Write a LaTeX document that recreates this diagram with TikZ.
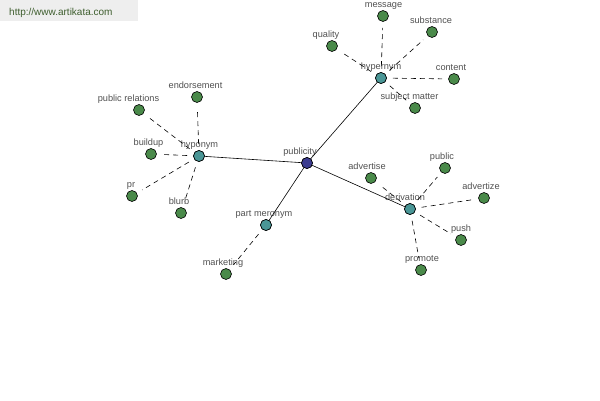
\documentclass[tikz,border=0pt]{standalone}
\usepackage{fontspec}
\setmainfont{Liberation Sans}
\definecolor{leafgreen}{HTML}{4A8A4A}
\definecolor{hubteal}{HTML}{4A9696}
\definecolor{rootblue}{HTML}{3C3C90}
\definecolor{labelgray}{HTML}{505050}
\definecolor{urlgreen}{HTML}{3E5E2E}
\definecolor{urlbg}{HTML}{EEEEEE}
\tikzset{
  dot/.style={circle,draw=black,line width=0.6pt,minimum size=11pt,inner sep=0pt},
  leaf/.style={dot,fill=leafgreen},
  hub/.style={dot,fill=hubteal},
  root/.style={dot,fill=rootblue},
  lbl/.style={font=\fontsize{9.2}{10}\selectfont,text=labelgray,anchor=base,inner sep=0pt},
  strong/.style={line width=0.6pt,black},
  weak/.style={line width=0.6pt,black,dash pattern=on 5pt off 4pt,shorten <=6pt,shorten >=6pt},
}
\newcommand{\gnode}[6]{%
  \node[#1] (#2) at (#3,#4) {};
  \node[lbl] (#2-l) at (#5,#4-9) {#6};}
\begin{document}
\begin{tikzpicture}[x=1pt,y=-1pt]
\useasboundingbox (0,0) rectangle (600,400);
\fill[urlbg] (0,0) rectangle (138,21);
\node[font=\fontsize{10}{12}\selectfont,text=urlgreen,anchor=base west,inner sep=0pt] (url) at (9,15) {http://www.artikata.com};
% hubs
\gnode{root}{publicity}{307}{163}{300}{publicity}
\gnode{hub}{hypernym}{381}{78}{381}{hypernym}
\gnode{hub}{hyponym}{199}{156}{199.5}{hyponym}
\gnode{hub}{derivation}{410}{209}{405}{derivation}
\gnode{hub}{partmer}{266}{225}{264}{part meronym}
% leaves
\gnode{leaf}{message}{383}{16}{383.5}{message}
\gnode{leaf}{substance}{432}{32}{431}{substance}
\gnode{leaf}{quality}{332}{46}{326}{quality}
\gnode{leaf}{content}{454}{79}{451}{content}
\gnode{leaf}{subjmat}{415}{108}{409.5}{subject matter}
\gnode{leaf}{endorse}{197}{97}{195.5}{endorsement}
\gnode{leaf}{pubrel}{139}{110}{128.5}{public relations}
\gnode{leaf}{buildup}{151}{154}{148.5}{buildup}
\gnode{leaf}{pr}{132}{196}{131}{pr}
\gnode{leaf}{blurb}{181}{213}{179}{blurb}
\gnode{leaf}{advertise}{371}{178}{367}{advertise}
\gnode{leaf}{public}{445}{168}{442}{public}
\gnode{leaf}{advertize}{484}{198}{481}{advertize}
\gnode{leaf}{push}{461}{240}{461}{push}
\gnode{leaf}{promote}{421}{270}{422}{promote}
\gnode{leaf}{marketing}{226}{274}{223}{marketing}
% edges
\draw[strong] (publicity) -- (hypernym);
\draw[strong] (publicity) -- (hyponym);
\draw[strong] (publicity) -- (derivation);
\draw[strong] (publicity) -- (partmer);
\foreach \l in {message,substance,quality,content,subjmat}
  \draw[weak] (hypernym) -- (\l);
\foreach \l in {endorse,pubrel,buildup,pr,blurb}
  \draw[weak] (hyponym) -- (\l);
\foreach \l in {advertise,public,advertize,push,promote}
  \draw[weak] (derivation) -- (\l);
\draw[weak] (partmer) -- (marketing);
% redraw hub dots on top of the connectors
\foreach \n/\s in {publicity/root,hypernym/hub,hyponym/hub,derivation/hub,partmer/hub}
  \node[\s] at (\n) {};
\end{tikzpicture}
\end{document}
